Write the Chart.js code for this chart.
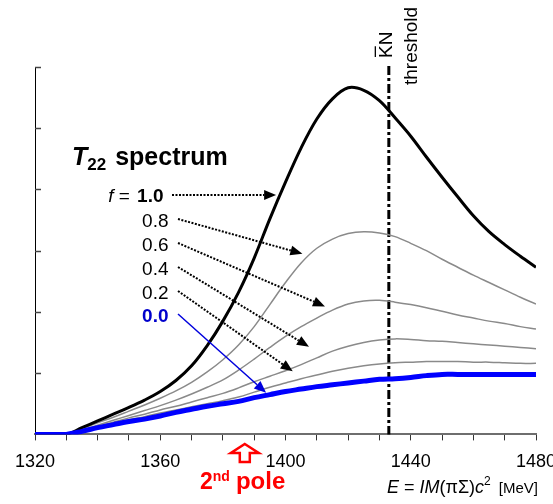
<!DOCTYPE html>
<html>
<head>
<meta charset="utf-8">
<script src="https://cdn.jsdelivr.net/npm/chart.js@4/dist/chart.umd.min.js"></script>
<style>
  html, body { margin: 0; padding: 0; background: #fff; overflow: hidden; }
  #wrap { width: 553px; height: 504px; position: relative; }
</style>
</head>
<body>
<div id="wrap"><canvas id="c" width="553" height="504"></canvas></div>
<script>
// Invariant mass E = IM(piSigma) c^2 in MeV
const energies = [1320,1325,1330,1335,1340,1345,1350,1355,1360,1365,1370,1375,1380,1385,1390,1395,1400,
                  1405,1410,1415,1420,1425,1430,1435,1440,1445,1450,1455,1460,1465,1470,1475,1480];

// |T22|^2 spectra (arbitrary units) for the mixing parameter f
const spectrumF10 = [0,0,0,0.11,0.22,0.33,0.44,0.56,0.70,0.88,1.12,1.45,1.85,2.32,2.88,3.52,4.12,
                     4.68,5.15,5.48,5.66,5.62,5.45,5.17,4.87,4.53,4.20,3.88,3.57,3.31,3.10,2.91,2.73];
const spectrumF08 = [0,0,0,0.09,0.19,0.28,0.38,0.48,0.59,0.71,0.85,1.02,1.22,1.46,1.76,2.12,2.48,
                     2.80,3.04,3.19,3.28,3.31,3.29,3.23,3.12,3.00,2.86,2.73,2.60,2.48,2.36,2.24,2.13];
const spectrumF06 = [0,0,0,0.07,0.15,0.23,0.31,0.39,0.47,0.56,0.66,0.77,0.89,1.05,1.23,1.42,1.60,
                     1.76,1.90,2.03,2.13,2.18,2.19,2.16,2.12,2.07,2.01,1.95,1.90,1.85,1.81,1.76,1.72];
const spectrumF04 = [0,0,0,0.06,0.13,0.20,0.27,0.33,0.40,0.46,0.53,0.60,0.67,0.76,0.86,0.95,1.04,
                     1.14,1.25,1.36,1.44,1.50,1.54,1.56,1.55,1.53,1.52,1.50,1.48,1.46,1.44,1.42,1.40];
const spectrumF02 = [0,0,0,0.05,0.12,0.18,0.24,0.29,0.35,0.40,0.45,0.50,0.55,0.61,0.69,0.77,0.84,
                     0.91,0.97,1.03,1.08,1.12,1.15,1.17,1.18,1.19,1.19,1.19,1.18,1.18,1.17,1.16,1.16];
const spectrumF00 = [0,0,0,0.05,0.11,0.16,0.21,0.25,0.30,0.36,0.41,0.46,0.50,0.54,0.60,0.65,0.70,
                     0.74,0.78,0.81,0.84,0.87,0.90,0.91,0.93,0.96,0.98,0.98,0.98,0.98,0.98,0.98,0.98];

const fLabels = ['1.0','0.8','0.6','0.4','0.2','0.0'];
// where each label's arrow points on its curve: [E, value]
const arrowTargets = [[1397,3.91],[1405.4,2.95],[1412.6,2.09],[1407.5,1.43],[1402.3,1.03],[1393.8,0.68]];

const xTickLabels = [1320,1360,1400,1440,1480];
const thresholdEnergy = 1433;   // KbarN threshold
const poleEnergy = 1387;        // position of the 2nd pole

const FONT = '"Liberation Sans", Arial, Helvetica, sans-serif';
const GRAY = '#8a8a8a';
const BLUE = '#0000ff';

const pts = arr => energies.map((e, i) => ({x: e, y: arr[i]}));

function lineSet(label, arr, color, width, order) {
  return {
    label, data: pts(arr), borderColor: color, borderWidth: width, order,
    pointRadius: 0, fill: false, tension: 0.35
  };
}

function drawRuns(ctx, runs, x, y, align) {
  let total = 0;
  runs.forEach(r => { ctx.font = r.font; r.w = ctx.measureText(r.text).width; total += r.w + (r.gap || 0); });
  let cx = align === 'right' ? x - total : x;
  ctx.textAlign = 'left';
  ctx.textBaseline = 'alphabetic';
  runs.forEach(r => {
    ctx.font = r.font;
    ctx.fillStyle = r.color || '#000';
    ctx.fillText(r.text, cx, y + (r.dy || 0));
    cx += r.w + (r.gap || 0);
  });
}

function arrow(ctx, x0, y0, x1, y1, color, dashed, lw) {
  const ang = Math.atan2(y1 - y0, x1 - x0);
  const hl = 12, hw = 5;
  const bx = x1 - hl * Math.cos(ang), by = y1 - hl * Math.sin(ang);
  ctx.save();
  ctx.strokeStyle = color; ctx.fillStyle = color; ctx.lineWidth = lw;
  ctx.setLineDash(dashed ? [2, 1.5] : []);
  ctx.beginPath(); ctx.moveTo(x0, y0); ctx.lineTo(bx, by); ctx.stroke();
  ctx.setLineDash([]);
  ctx.beginPath();
  ctx.moveTo(x1, y1);
  ctx.lineTo(bx + hw * Math.sin(ang), by - hw * Math.cos(ang));
  ctx.lineTo(bx - hw * Math.sin(ang), by + hw * Math.cos(ang));
  ctx.closePath(); ctx.fill();
  ctx.restore();
}

const decorations = {
  id: 'decorations',
  beforeDatasetsDraw(chart) {
    const {ctx, scales: {x, y}} = chart;
    // KbarN threshold line
    const tx = x.getPixelForValue(thresholdEnergy);
    ctx.save();
    ctx.strokeStyle = '#000'; ctx.lineWidth = 3;
    ctx.setLineDash([9, 3, 3, 3]);
    ctx.beginPath(); ctx.moveTo(tx, y.getPixelForValue(6) - 1); ctx.lineTo(tx, y.getPixelForValue(0)); ctx.stroke();
    ctx.restore();
  },
  afterDraw(chart) {
    const {ctx, scales: {x, y}} = chart;
    ctx.save();
    // inward ticks on the left axis
    ctx.strokeStyle = '#444'; ctx.lineWidth = 1.5;
    for (let v = 1; v <= 6; v++) {
      const py = Math.round(y.getPixelForValue(v)) + 0.5;
      ctx.beginPath(); ctx.moveTo(x.left, py); ctx.lineTo(x.left + 6, py); ctx.stroke();
    }

    // title
    drawRuns(ctx, [
      {text: 'T', font: `italic bold 25px ${FONT}`},
      {text: '22', font: `bold 17px ${FONT}`, dy: 5, gap: 9},
      {text: 'spectrum', font: `bold 25px ${FONT}`}
    ], 72, 165, 'left');

    // f labels and arrows
    const labelX = 168.5;
    const baselines = [202, 227, 251, 275, 299, 322];
    baselines.forEach((b, i) => {
      if (i === 0) {
        drawRuns(ctx, [
          {text: 'f', font: `italic 19px ${FONT}`},
          {text: ' = ', font: `19px ${FONT}`, gap: 2},
          {text: '1.0', font: `bold 19px ${FONT}`}
        ], 163.5, b, 'right');
      } else if (i === 5) {
        drawRuns(ctx, [{text: fLabels[i], font: `bold 19px ${FONT}`, color: '#0000cc'}], labelX, b, 'right');
      } else {
        drawRuns(ctx, [{text: fLabels[i], font: `19px ${FONT}`}], labelX, b, 'right');
      }
      const [te, tv] = arrowTargets[i];
      const x1 = x.getPixelForValue(te), y1 = y.getPixelForValue(tv);
      const x0 = i === 0 ? 172 : 178;
      const y0 = i === 0 ? b - 7 : b - 8;
      if (i === 5) arrow(ctx, x0, y0, x1, y1, '#0000dd', false, 1.5);
      else arrow(ctx, x0, y0, x1, y1, '#000', true, 2);
    });

    // threshold caption (rotated)
    const tx = x.getPixelForValue(thresholdEnergy);
    ctx.save();
    ctx.translate(tx + 3, 58);
    ctx.rotate(-Math.PI / 2);
    ctx.font = `19px ${FONT}`; ctx.fillStyle = '#000'; ctx.textBaseline = 'alphabetic'; ctx.textAlign = 'left';
    ctx.fillText('KN', 0, 0);
    const kw = ctx.measureText('K').width;
    ctx.strokeStyle = '#000'; ctx.lineWidth = 1.3;
    ctx.beginPath(); ctx.moveTo(1, -16.5); ctx.lineTo(kw - 1, -16.5); ctx.stroke();
    ctx.restore();
    ctx.save();
    ctx.translate(tx + 28, 85);
    ctx.rotate(-Math.PI / 2);
    ctx.font = `19px ${FONT}`; ctx.fillStyle = '#000'; ctx.textBaseline = 'alphabetic'; ctx.textAlign = 'left';
    ctx.fillText('threshold', 0, 0);
    ctx.restore();

    // 2nd pole marker
    const px = x.getPixelForValue(poleEnergy);
    ctx.beginPath();
    ctx.moveTo(px, 444);
    ctx.lineTo(px + 14, 453);
    ctx.lineTo(px + 5, 453);
    ctx.lineTo(px + 5, 462);
    ctx.lineTo(px - 5, 462);
    ctx.lineTo(px - 5, 453);
    ctx.lineTo(px - 14, 453);
    ctx.closePath();
    ctx.fillStyle = '#fff'; ctx.fill();
    ctx.strokeStyle = '#ff0000'; ctx.lineWidth = 2.5; ctx.lineJoin = 'miter'; ctx.stroke();
    drawRuns(ctx, [
      {text: '2', font: `bold 23px ${FONT}`, color: '#ff0000'},
      {text: 'nd', font: `bold 14px ${FONT}`, color: '#ff0000', dy: -8, gap: 6},
      {text: 'pole', font: `bold 24px ${FONT}`, color: '#ff0000'}
    ], 200, 489, 'left');

    // axis title
    drawRuns(ctx, [
      {text: 'E', font: `italic 18px ${FONT}`},
      {text: ' = ', font: `18px ${FONT}`},
      {text: 'IM', font: `italic 18px ${FONT}`},
      {text: '(\u03c0\u03a3)', font: `18px ${FONT}`},
      {text: 'c', font: `italic 18px ${FONT}`},
      {text: '2', font: `12px ${FONT}`, dy: -8, gap: 8},
      {text: '[MeV]', font: `15px ${FONT}`}
    ], 387, 493, 'left');
    ctx.restore();
  }
};

new Chart(document.getElementById('c'), {
  type: 'line',
  data: {
    datasets: [
      lineSet('f = 0.0', spectrumF00, BLUE, 5, 0),
      lineSet('f = 1.0', spectrumF10, '#000', 3, 1),
      lineSet('f = 0.8', spectrumF08, GRAY, 1.5, 2),
      lineSet('f = 0.6', spectrumF06, GRAY, 1.5, 3),
      lineSet('f = 0.4', spectrumF04, GRAY, 1.5, 4),
      lineSet('f = 0.2', spectrumF02, GRAY, 1.5, 5)
    ]
  },
  options: {
    responsive: false,
    animation: false,
    events: [],
    layout: {padding: {left: 35, right: 17, top: 67, bottom: 20}},
    plugins: {legend: {display: false}, tooltip: {enabled: false}},
    scales: {
      x: {
        type: 'linear', min: 1320, max: 1480,
        grid: {display: true, drawOnChartArea: false, drawTicks: true, tickLength: 6, color: '#333', lineWidth: 1},
        border: {display: true, color: '#6e6e6e', width: 2},
        ticks: {
          stepSize: 10, autoSkip: false, maxRotation: 0, padding: 11,
          color: '#000', font: {family: FONT, size: 18},
          callback: v => xTickLabels.includes(v) ? String(v) : ''
        },
        afterFit: s => { s.paddingLeft = 0; s.paddingRight = 0; }
      },
      y: {
        type: 'linear', min: 0, max: 6,
        grid: {display: false, drawTicks: false},
        border: {display: true, color: '#000', width: 1},
        ticks: {display: false}
      }
    }
  },
  plugins: [decorations]
});
</script>
</body>
</html>
